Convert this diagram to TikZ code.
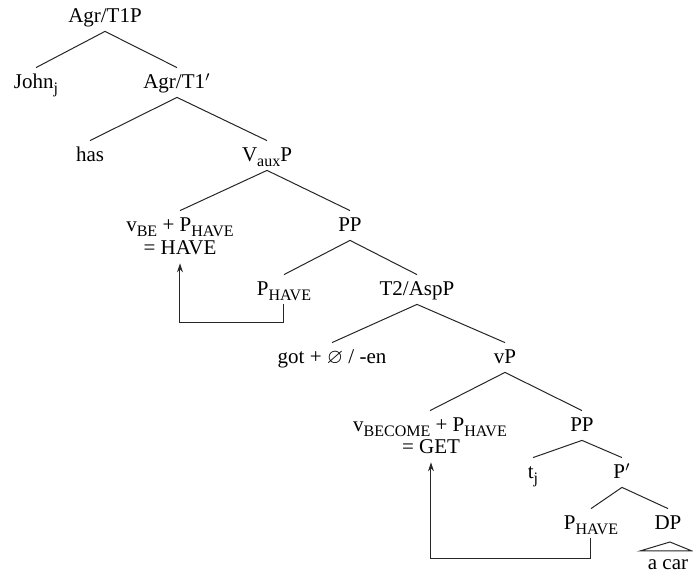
\documentclass[tikz,border=0pt]{standalone}
\usepackage{fontspec}
\usepackage{amssymb}
\setmainfont{Liberation Serif}
\usetikzlibrary{arrows.meta}
\newcommand{\mysub}[1]{\raisebox{-0.45ex}{\fontsize{8}{9}\selectfont #1}}
\tikzset{
  lbl/.style={anchor=base, inner xsep=1pt, inner ysep=3.5pt, text height=7pt, text depth=0.5pt, font=\fontsize{10.5}{12}\selectfont},
  branch/.style={line width=0.5pt, draw=black!85},
  mv/.style={line width=0.5pt, draw=black!85, -{Stealth[length=4.5pt,width=3pt]}}
}
\begin{document}
\begin{tikzpicture}[x=0.5pt,y=-0.5pt]
\useasboundingbox (0,0) rectangle (693,572);
\node[lbl] (root) at (105,23) {Agr/T1P};
\node[lbl] (john) at (36,89) {John\mysub{j}};
\node[lbl] (agr1) at (177,89) {Agr/T1$'$};
\node[lbl] (has) at (90,162) {has};
\node[lbl] (vaux) at (267,162) {V\mysub{aux}P};
\node[lbl] (vbe) at (180,232) {v\mysub{BE} + P\mysub{HAVE}};
\node[lbl] (have) at (180,255) {= HAVE};
\node[lbl] (pp1) at (350,232) {PP};
\node[lbl] (ph1) at (284,296) {P\mysub{HAVE}};
\node[lbl] (t2) at (417,296) {T2/AspP};
\node[lbl] (got) at (332,364) {got + $\varnothing$ / -en};
\node[lbl] (vp) at (505,364) {vP};
\node[lbl] (vbec) at (430,432) {v\mysub{BECOME} + P\mysub{HAVE}};
\node[lbl] (get) at (431,454) {= GET};
\node[lbl] (pp2) at (582,432) {PP};
\node[lbl] (tj) at (533,479) {t\mysub{j}};
\node[lbl] (pprime) at (622,479) {P$'$};
\node[lbl] (ph2) at (591,530) {P\mysub{HAVE}};
\node[lbl] (dp) at (668,530) {DP};
\node[lbl] (acar) at (668,570) {a car};

\draw[branch] (root.south) -- (john.north);
\draw[branch] (root.south) -- (agr1.north);
\draw[branch] (agr1.south) -- (has.north);
\draw[branch] (agr1.south) -- (vaux.north);
\draw[branch] (vaux.south) -- (vbe.north);
\draw[branch] (vaux.south) -- (pp1.north);
\draw[branch] (pp1.south) -- (ph1.north);
\draw[branch] (pp1.south) -- (t2.north);
\draw[branch] (t2.south) -- (got.north);
\draw[branch] (t2.south) -- (vp.north);
\draw[branch] (vp.south) -- (vbec.north);
\draw[branch] (vp.south) -- (pp2.north);
\draw[branch] (pp2.south) -- (tj.north);
\draw[branch] (pp2.south) -- (pprime.north);
\draw[branch] (pprime.south) -- (ph2.north);
\draw[branch] (pprime.south) -- (dp.north);

\coordinate (tri) at (670,542);
\draw[branch] (tri) -- (640,551) -- (692,551) -- cycle;

\draw[mv] (ph1.south) -- ++(0,18) -| (have.south);
\draw[mv] (ph2.south) -- ++(0,20) -| (get.south);
\end{tikzpicture}
\end{document}
